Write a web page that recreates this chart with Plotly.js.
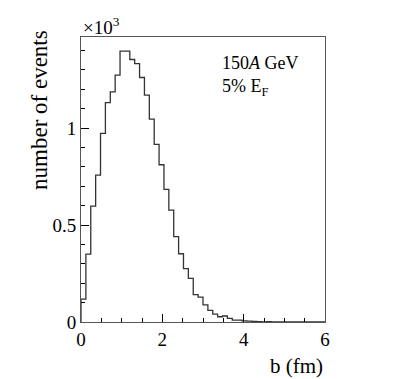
<!DOCTYPE html>
<html>
<head>
<meta charset="utf-8">
<script src="https://cdn.plot.ly/plotly-3.0.1.min.js"></script>
<style>
  body { margin: 0; background: #fff; }
  #chart { width: 407px; height: 379px; }
</style>
</head>
<body>
<div id="chart"></div>
<script>
// impact parameter histogram, 50 bins from 0 to 6 fm
let binWidth = 0.12;
let counts = [
  118, 350, 598, 758, 973, 1132, 1187, 1273, 1397, 1397,
  1354, 1333, 1261, 1170, 1046, 916, 811, 684, 577, 440,
  352, 275, 225, 141, 128, 88, 60, 41, 27, 31,
  19, 10, 10, 6, 4, 3, 2, 1, 2, 0,
  1, 0, 0, 0, 0, 0, 0, 0, 0, 0
];
let yTickVals = [0, 500, 1000];
let yTickText = ["0", "0.5", "1"];
let xTickVals = [0, 2, 4, 6];

// build step outline from the bin edges
let xs = [0];
let ys = [0];
for (let i = 0; i < counts.length; i++) {
  xs.push(i * binWidth);
  ys.push(counts[i]);
}
xs.push(counts.length * binWidth);
ys.push(counts[counts.length - 1]);

let serif = "Liberation Serif, Times New Roman, serif";

let data = [
  {
    x: xs,
    y: ys,
    type: "scatter",
    mode: "lines",
    line: { shape: "hv", color: "#333", width: 1.3 },
    hoverinfo: "skip",
  },
];

let layout = {
  width: 407,
  height: 379,
  margin: { l: 81, r: 82, t: 37, b: 57 },
  paper_bgcolor: "#fff",
  plot_bgcolor: "#fff",
  showlegend: false,
  font: { family: serif, size: 18, color: "#000" },
  xaxis: {
    range: [0, 6],
    tickvals: xTickVals,
    ticks: "inside",
    ticklen: 8,
    tickcolor: "#000",
    minor: { dtick: 0.5, ticks: "inside", ticklen: 4, tickcolor: "#000" },
    showgrid: false,
    zeroline: false,
    showline: true,
    mirror: true,
    linecolor: "#555",
    linewidth: 1,
    tickfont: { family: serif, size: 19 },
  },
  yaxis: {
    range: [0, 1470],
    tickvals: yTickVals,
    ticktext: yTickText,
    ticks: "inside",
    ticklen: 8,
    tickcolor: "#000",
    minor: { dtick: 100, ticks: "inside", ticklen: 4, tickcolor: "#000" },
    showgrid: false,
    zeroline: false,
    showline: true,
    mirror: true,
    linecolor: "#555",
    linewidth: 1,
    tickfont: { family: serif, size: 19 },
  },
  annotations: [
    {
      text: "number of events",
      textangle: -90,
      xref: "paper", yref: "paper",
      x: -0.17, y: 1.03,
      xanchor: "center", yanchor: "top",
      showarrow: false,
      font: { family: serif, size: 23 },
    },
    {
      text: "b (fm)",
      xref: "paper", yref: "paper",
      x: 1, y: -0.155,
      xanchor: "right", yanchor: "middle",
      showarrow: false,
      font: { family: serif, size: 21 },
    },
    {
      text: "×10<sup>3</sup>",
      xref: "paper", yref: "paper",
      x: 0.0, y: 0.99,
      xanchor: "left", yanchor: "bottom",
      showarrow: false,
      font: { family: serif, size: 19 },
    },
    {
      text: "150<i>A</i> GeV<br>5% E<sub>F</sub>",
      xref: "paper", yref: "paper",
      x: 0.57, y: 0.95,
      xanchor: "left", yanchor: "top",
      align: "left",
      showarrow: false,
      font: { family: serif, size: 18 },
    },
  ],
};

Plotly.newPlot("chart", data, layout, { displayModeBar: false, staticPlot: true });
</script>
</body>
</html>
